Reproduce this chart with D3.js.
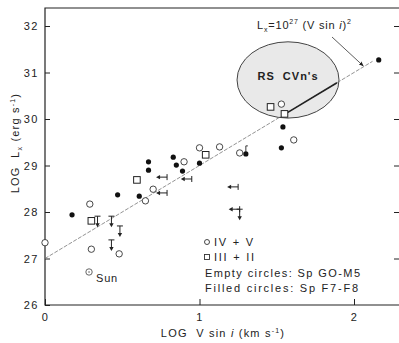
<!DOCTYPE html>
<html>
<head>
<meta charset="utf-8">
<script src="https://cdn.jsdelivr.net/npm/d3@7"></script>
<style>
  body { margin: 0; background: #fff; }
  svg { display: block; font-family: "Liberation Sans", Arial, sans-serif; }
  .axis text { font-size: 11px; fill: #222; letter-spacing: 1.5px; }
  .axis line { stroke: #222; }
</style>
</head>
<body>
<div id="chart"></div>
<script>
// values: [log v sin i, log Lx]
var openStars = [[0.00,27.34],[0.29,28.17],[0.30,27.20],[0.48,27.10],[0.70,28.49],[0.65,28.24],
  [0.90,29.08],[1.00,29.38],[1.13,29.40],[1.26,29.27],[1.53,30.32],[1.61,29.55]];
var giants = [[0.30,27.81],[0.595,28.69],[1.04,29.23],[1.46,30.26],[1.55,30.11]];
var filledStars = [[0.175,27.94],[0.47,28.37],[0.61,28.34],[0.67,29.08],[0.67,28.90],[0.83,29.18],
  [0.85,29.01],[0.89,28.88],[1.00,29.05],[1.30,29.25],[1.54,29.83],[1.53,29.38],[2.16,31.27]];
var upperLimits = [[0.34,27.91],[0.43,27.91],[0.485,27.70],[0.43,27.40],[1.26,28.06]];
var leftLimits = [[0.79,28.75],[0.95,28.71],[0.79,28.41],[1.25,28.54],[1.26,28.06]];
var sun = [0.285, 26.71];
var yTicks = [26,27,28,29,30,31,32];
var xTicks = [0,1,2];

var width = 399, height = 343;
var frame = {left: 45, bottom: 305, top: 8, right: 400};

var svg = d3.select("#chart").append("svg")
  .attr("width", width).attr("height", height);

var x = d3.scaleLinear().domain([0,2]).range([45,354]);
var y = d3.scaleLinear().domain([26,32]).range([305,26]);

// frame
svg.append("path")
  .attr("d", "M" + frame.right + "," + frame.top + "H" + frame.left + "V" + frame.bottom + "H" + frame.right)
  .attr("fill", "none").attr("stroke", "#222").attr("stroke-width", 1.2);

// axes, ticks pointing inward
var yAxis = svg.append("g").attr("class", "axis")
  .attr("transform", "translate(" + frame.left + ",0)")
  .call(d3.axisLeft(y).tickValues(yTicks).tickSize(-5).tickPadding(6).tickFormat(d3.format("d")));
yAxis.select(".domain").remove();

var yRight = svg.append("g").attr("class", "axis")
  .attr("transform", "translate(" + frame.right + ",0)")
  .call(d3.axisRight(y).tickValues(yTicks.slice(1)).tickSize(-6).tickFormat(""));
yRight.select(".domain").remove();

var xAxis = svg.append("g").attr("class", "axis")
  .attr("transform", "translate(0," + frame.bottom + ")")
  .call(d3.axisBottom(x).tickValues(xTicks).tickSize(-6).tickPadding(8).tickFormat(d3.format("d")));
xAxis.select(".domain").remove();

// axis titles
svg.append("text").attr("x", 223).attr("y", 337).attr("text-anchor", "middle")
  .attr("font-size", 11).attr("fill", "#222").attr("letter-spacing", 1.2)
  .html('LOG&#160;&#160;V sin <tspan font-style="italic">i</tspan> (km s<tspan dy="-4" font-size="7">-1</tspan><tspan dy="4">)</tspan>');

svg.append("text").attr("transform", "translate(19,143) rotate(-90)").attr("text-anchor", "middle")
  .attr("font-size", 11).attr("fill", "#222").attr("letter-spacing", 1.2)
  .html('LOG&#160;&#160;L<tspan dy="3" font-size="7">x</tspan><tspan dy="-3"> (erg s</tspan><tspan dy="-4" font-size="7">-1</tspan><tspan dy="4">)</tspan>');

// RS CVn region
svg.append("ellipse")
  .attr("cx", x(1.573)).attr("cy", y(30.84))
  .attr("rx", x(0.33) - x(0)).attr("ry", y(30) - y(30.82))
  .attr("fill", "#e9e9e9").attr("stroke", "#444").attr("stroke-width", 1);
svg.append("text").attr("x", x(1.573)).attr("y", y(30.84))
  .attr("text-anchor", "middle").attr("font-size", 11).attr("font-weight", "bold")
  .attr("fill", "#222").attr("letter-spacing", 1)
  .text("RS\u00a0\u00a0CVn's");

// fit line log Lx = 27 + 2 log v
function fit(v) { return 27 + 2 * v; }
svg.append("line")
  .attr("x1", x(0)).attr("y1", y(fit(0))).attr("x2", x(2.12)).attr("y2", y(fit(2.12)))
  .attr("stroke", "#777").attr("stroke-width", 0.8).attr("stroke-dasharray", "4,1.5");
svg.append("line")
  .attr("x1", x(1.55)).attr("y1", y(fit(1.55))).attr("x2", x(1.89)).attr("y2", y(fit(1.89)))
  .attr("stroke", "#222").attr("stroke-width", 1.6);

// annotation
svg.append("text").attr("x", 257).attr("y", 29).attr("font-size", 11).attr("fill", "#222")
  .attr("letter-spacing", 0.8)
  .html('L<tspan dy="3" font-size="7">x</tspan><tspan dy="-3">=10</tspan><tspan dy="-5" font-size="7">27</tspan><tspan dy="5"> (V sin </tspan><tspan font-style="italic">i</tspan>)<tspan dy="-5" font-size="7">2</tspan>');
svg.append("defs").append("marker").attr("id", "ah")
  .attr("viewBox", "0 0 10 10").attr("refX", 9).attr("refY", 5)
  .attr("markerWidth", 6).attr("markerHeight", 6).attr("orient", "auto")
  .append("path").attr("d", "M0,1L10,5L0,9z").attr("fill", "#222");
svg.append("line")
  .attr("x1", 332).attr("y1", 37).attr("x2", x(2.06)).attr("y2", y(fit(2.06)) - 1)
  .attr("stroke", "#333").attr("stroke-width", 0.8).attr("marker-end", "url(#ah)");

// upper limits in Lx (bar on top, arrow down)
var ul = svg.append("g").selectAll("g").data(upperLimits).enter().append("g");
ul.append("line")
  .attr("x1", function(d) { return x(d[0]) - 3; }).attr("x2", function(d) { return x(d[0]) + 3; })
  .attr("y1", function(d) { return y(d[1]); }).attr("y2", function(d) { return y(d[1]); })
  .attr("stroke", "#222").attr("stroke-width", 1);
ul.append("line")
  .attr("x1", function(d) { return x(d[0]); }).attr("x2", function(d) { return x(d[0]); })
  .attr("y1", function(d) { return y(d[1]); }).attr("y2", function(d) { return y(d[1]) + 8; })
  .attr("stroke", "#222").attr("stroke-width", 1);
ul.append("path")
  .attr("d", function(d) { var cx = x(d[0]), cy = y(d[1]) + 11;
    return "M" + (cx - 2.2) + "," + (cy - 4) + "L" + (cx + 2.2) + "," + (cy - 4) + "L" + cx + "," + cy + "z"; })
  .attr("fill", "#222");

// upper limits in v sin i (bar on right, arrow left)
var ll = svg.append("g").selectAll("g").data(leftLimits).enter().append("g");
ll.append("line")
  .attr("x1", function(d) { return x(d[0]); }).attr("x2", function(d) { return x(d[0]); })
  .attr("y1", function(d) { return y(d[1]) - 3; }).attr("y2", function(d) { return y(d[1]) + 3; })
  .attr("stroke", "#222").attr("stroke-width", 1);
ll.append("line")
  .attr("x1", function(d) { return x(d[0]); }).attr("x2", function(d) { return x(d[0]) - 8; })
  .attr("y1", function(d) { return y(d[1]); }).attr("y2", function(d) { return y(d[1]); })
  .attr("stroke", "#222").attr("stroke-width", 1);
ll.append("path")
  .attr("d", function(d) { var cx = x(d[0]) - 11, cy = y(d[1]);
    return "M" + (cx + 4) + "," + (cy - 2.2) + "L" + (cx + 4) + "," + (cy + 2.2) + "L" + cx + "," + cy + "z"; })
  .attr("fill", "#222");

// open circles: IV + V
svg.append("g").selectAll("circle").data(openStars).enter().append("circle")
  .attr("cx", function(d) { return x(d[0]); }).attr("cy", function(d) { return y(d[1]); })
  .attr("r", 3.2).attr("fill", "#fff").attr("stroke", "#333").attr("stroke-width", 0.9);

// squares: III + II
svg.append("g").selectAll("rect").data(giants).enter().append("rect")
  .attr("x", function(d) { return x(d[0]) - 3.3; }).attr("y", function(d) { return y(d[1]) - 3.3; })
  .attr("width", 6.6).attr("height", 6.6)
  .attr("fill", "#fff").attr("stroke", "#222").attr("stroke-width", 1);

// filled circles
svg.append("g").selectAll("circle").data(filledStars).enter().append("circle")
  .attr("cx", function(d) { return x(d[0]); }).attr("cy", function(d) { return y(d[1]); })
  .attr("r", 2.6).attr("fill", "#111");
// small tick over the star near log v = 1.3
svg.append("path")
  .attr("d", "M" + x(filledStars[9][0]) + "," + (y(filledStars[9][1]) - 2) + "v-6h2")
  .attr("fill", "none").attr("stroke", "#222").attr("stroke-width", 0.9);

// Sun
svg.append("circle").attr("cx", x(sun[0])).attr("cy", y(sun[1])).attr("r", 3.2)
  .attr("fill", "#fff").attr("stroke", "#555").attr("stroke-width", 0.9);
svg.append("circle").attr("cx", x(sun[0])).attr("cy", y(sun[1])).attr("r", 0.8).attr("fill", "#555");
svg.append("text").attr("x", x(sun[0]) + 7).attr("y", y(sun[1]) + 10)
  .attr("font-size", 11).attr("fill", "#222").attr("letter-spacing", 0.8).text("Sun");

// legend
svg.append("circle").attr("cx", 207).attr("cy", 242).attr("r", 2.5)
  .attr("fill", "#fff").attr("stroke", "#333").attr("stroke-width", 0.9);
svg.append("text").attr("x", 214).attr("y", 246).attr("font-size", 11).attr("fill", "#222")
  .attr("textLength", 39).attr("lengthAdjust", "spacing").text("IV + V");
svg.append("rect").attr("x", 204.5).attr("y", 254.5).attr("width", 5).attr("height", 5)
  .attr("fill", "#fff").attr("stroke", "#333").attr("stroke-width", 0.9);
svg.append("text").attr("x", 214).attr("y", 261).attr("font-size", 11).attr("fill", "#222")
  .attr("textLength", 40).attr("lengthAdjust", "spacing").text("III + II");
svg.append("text").attr("x", 205).attr("y", 277).attr("font-size", 11).attr("fill", "#222")
  .attr("textLength", 155).attr("lengthAdjust", "spacing").text("Empty circles: Sp GO-M5");
svg.append("text").attr("x", 205).attr("y", 292).attr("font-size", 11).attr("fill", "#222")
  .attr("textLength", 153).attr("lengthAdjust", "spacing").text("Filled circles: Sp F7-F8");
</script>
</body>
</html>
